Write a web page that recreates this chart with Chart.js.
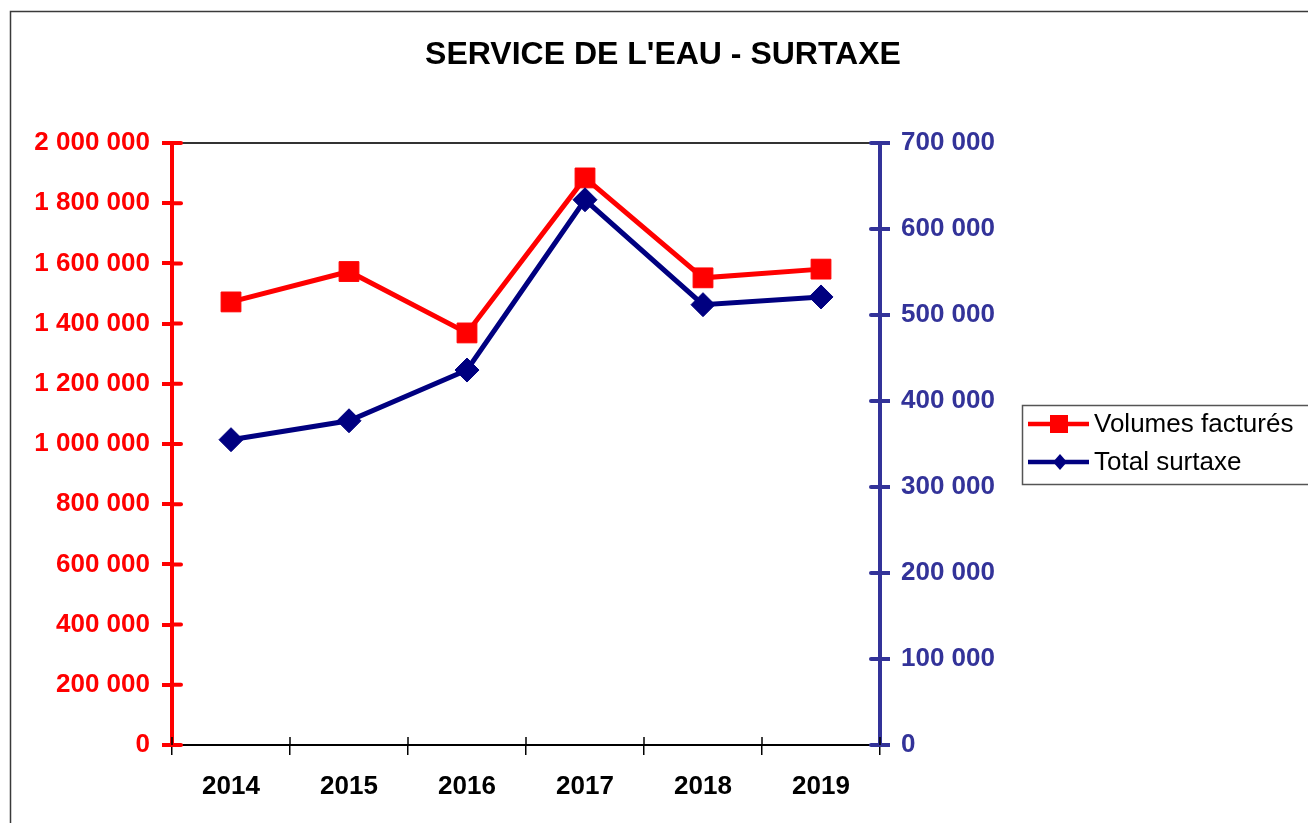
<!DOCTYPE html>
<html>
<head>
<meta charset="utf-8">
<script src="https://cdn.jsdelivr.net/npm/chart.js@4.4.1/dist/chart.umd.min.js"></script>
<style>
  html, body { margin: 0; padding: 0; background: #ffffff; overflow: hidden; }
  #wrap { position: absolute; left: 0; top: 0; width: 1308px; height: 823px; }
</style>
</head>
<body>
<div id="wrap"><canvas id="c" width="1308" height="823"></canvas></div>
<script>
// ---- data ----
const years = ['2014', '2015', '2016', '2017', '2018', '2019'];
const volumes = [1472000, 1573000, 1369000, 1884000, 1552000, 1581000];
const surtaxe = [355000, 377000, 436000, 634000, 512000, 521000];
const seriesNames = ['Volumes factur\u00e9s', 'Total surtaxe'];
const titleText = "SERVICE DE L'EAU - SURTAXE";
const leftMax = 2000000, leftStep = 200000;
const rightMax = 700000, rightStep = 100000;

// ---- styles ----
const RED = '#ff0000';
const NAVY = '#000080';
const AXBLUE = '#333399';
const FONT = "'Liberation Sans', Arial, sans-serif";

function fmt(v) {
  return String(v).replace(/\B(?=(\d{3})+(?!\d))/g, ' ');
}

const frameAndTicks = {
  id: 'frameAndTicks',
  beforeDraw(chart) {
    const ctx = chart.ctx;
    ctx.save();
    ctx.strokeStyle = '#3a3a3a';
    ctx.lineWidth = 1.5;
    ctx.strokeRect(10.5, 11.5, 1400, 900);
    ctx.restore();
  },
  beforeDatasetsDraw(chart) {
    const ctx = chart.ctx;
    const a = chart.chartArea;
    ctx.save();
    ctx.strokeStyle = '#333333';
    ctx.lineWidth = 2;
    ctx.beginPath();
    ctx.moveTo(a.left, a.top);
    ctx.lineTo(a.right, a.top);
    ctx.stroke();
    const yl = chart.scales.y;
    const yr = chart.scales.y2;
    ctx.lineWidth = 4;
    ctx.lineCap = 'round';
    ctx.strokeStyle = RED;
    yl.ticks.forEach((t, i) => {
      const p = yl.getPixelForTick(i);
      ctx.beginPath(); ctx.moveTo(a.left, p); ctx.lineTo(a.left + 9, p); ctx.stroke();
    });
    ctx.strokeStyle = AXBLUE;
    yr.ticks.forEach((t, i) => {
      const p = yr.getPixelForTick(i);
      ctx.beginPath(); ctx.moveTo(a.right, p); ctx.lineTo(a.right - 9, p); ctx.stroke();
    });
    ctx.lineCap = 'butt';
    const xs = chart.scales.x;
    const n = xs.ticks.length;
    const step = xs.getPixelForTick(1) - xs.getPixelForTick(0);
    ctx.strokeStyle = '#000000';
    ctx.lineWidth = 1.5;
    for (let i = 0; i <= n; i++) {
      const p = (i < n ? xs.getPixelForTick(i) : xs.getPixelForTick(n - 1) + step) - step / 2;
      ctx.beginPath(); ctx.moveTo(p, a.bottom); ctx.lineTo(p, a.bottom - 8); ctx.stroke();
    }
    ctx.restore();
  },
  afterDraw(chart) {
    const ctx = chart.ctx;
    ctx.save();
    ctx.strokeStyle = '#555555';
    ctx.lineWidth = 1.5;
    ctx.strokeRect(1022.5, 405.5, 300, 79);
    const rows = [424, 462];
    chart.data.datasets.forEach((ds, i) => {
      const y = rows[i];
      ctx.strokeStyle = ds.borderColor;
      ctx.lineWidth = 4.5;
      ctx.beginPath(); ctx.moveTo(1028, y); ctx.lineTo(1089, y); ctx.stroke();
      ctx.fillStyle = ds.backgroundColor;
      if (ds.pointStyle === 'rect') {
        ctx.fillRect(1059 - 9, y - 9, 18, 18);
      } else {
        ctx.beginPath();
        ctx.moveTo(1060, y - 8); ctx.lineTo(1067, y); ctx.lineTo(1060, y + 8); ctx.lineTo(1053, y);
        ctx.closePath(); ctx.fill();
      }
      ctx.fillStyle = '#000000';
      ctx.font = '26px ' + FONT;
      ctx.textBaseline = 'middle';
      ctx.textAlign = 'left';
      ctx.fillText(ds.label, 1094, y + 1);
    });
    ctx.restore();
  }
};

new Chart(document.getElementById('c'), {
  type: 'line',
  data: {
    labels: years,
    datasets: [
      {
        label: seriesNames[0], data: volumes, yAxisID: 'y', order: 1,
        borderColor: RED, backgroundColor: RED, borderWidth: 5,
        pointStyle: 'rect', pointRadius: 14, pointBorderWidth: 1,
        pointBackgroundColor: RED, pointBorderColor: RED, tension: 0, clip: false
      },
      {
        label: seriesNames[1], data: surtaxe, yAxisID: 'y2', order: 0,
        borderColor: NAVY, backgroundColor: NAVY, borderWidth: 5,
        pointStyle: 'rectRot', pointRadius: 12, pointBorderWidth: 1,
        pointBackgroundColor: NAVY, pointBorderColor: NAVY, tension: 0, clip: false
      }
    ]
  },
  options: {
    responsive: false,
    devicePixelRatio: 1,
    animation: false,
    layout: { padding: { left: 18, right: 0, top: 0, bottom: 0 } },
    plugins: {
      legend: { display: false },
      tooltip: { enabled: false },
      title: {
        display: true, text: titleText, color: '#000000',
        font: { family: FONT, size: 32, weight: 'bold', lineHeight: 1.2 },
        padding: { top: 36, bottom: 68.6 }
      }
    },
    scales: {
      x: {
        type: 'category', offset: true,
        grid: { offset: true, drawOnChartArea: false, drawTicks: true, tickLength: 10, color: '#000000', lineWidth: 1.5 },
        border: { color: '#000000', width: 2 },
        ticks: { color: '#000000', font: { family: FONT, size: 26, weight: 'bold' }, padding: 16, maxRotation: 0 },
        afterFit(s) { s.height = 78; }
      },
      y: {
        position: 'left', min: 0, max: leftMax,
        grid: { drawOnChartArea: false, drawTicks: true, tickLength: 10, color: RED, lineWidth: 4 },
        border: { color: RED, width: 4 },
        ticks: { stepSize: leftStep, color: RED, font: { family: FONT, size: 26, weight: 'bold' }, padding: 12, callback: v => fmt(v) },
        afterFit(s) { s.width = 154; }
      },
      y2: {
        position: 'right', min: 0, max: rightMax,
        grid: { drawOnChartArea: false, drawTicks: true, tickLength: 10, color: AXBLUE, lineWidth: 4 },
        border: { color: AXBLUE, width: 4 },
        ticks: { stepSize: rightStep, color: AXBLUE, font: { family: FONT, size: 26, weight: 'bold' }, padding: 11, callback: v => fmt(v) },
        afterFit(s) { s.width = 428; }
      }
    }
  },
  plugins: [frameAndTicks]
});
</script>
</body>
</html>
